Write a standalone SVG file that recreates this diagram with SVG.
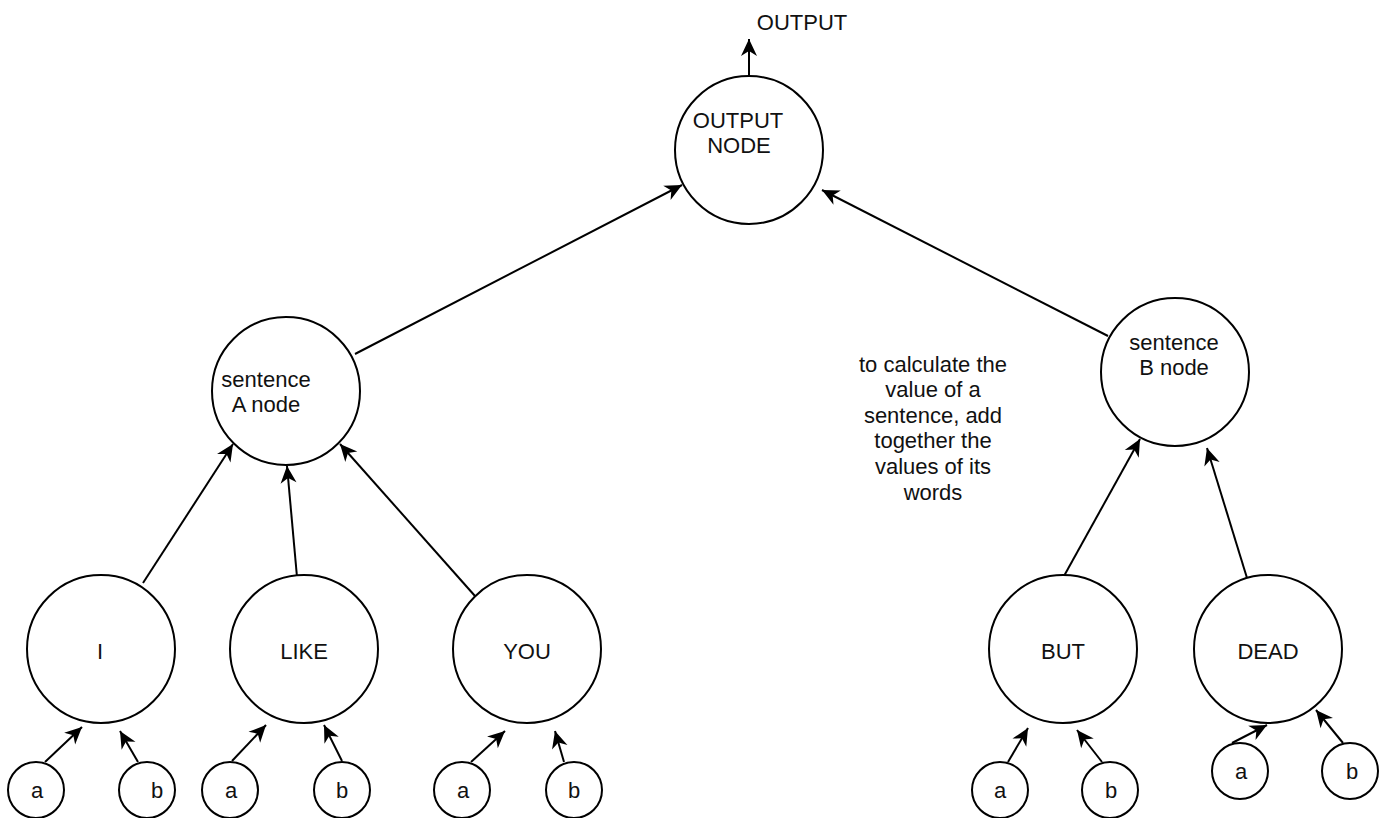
<svg xmlns="http://www.w3.org/2000/svg" width="1382" height="818" viewBox="0 0 1382 818">
<defs>
<marker id="arr" markerUnits="userSpaceOnUse" markerWidth="18" markerHeight="16" refX="17" refY="8" orient="auto" overflow="visible">
<path d="M0,0 L17,8 L0,16 L5,8 Z" fill="#000"/>
</marker>
<style>
.n{fill:#fff;stroke:#000;stroke-width:2}
.t{font-family:"Liberation Sans",Arial,sans-serif;font-size:22px;fill:#111;text-anchor:middle}
.c{fill:none;stroke:#000;stroke-width:2;marker-end:url(#arr)}
</style>
</defs>
<rect width="1382" height="818" fill="#fff"/>
<g id="connectors">
<line class="c" x1="749" y1="76" x2="749" y2="39"/>
<line class="c" x1="355" y1="354" x2="682" y2="185"/>
<line class="c" x1="1108" y1="336" x2="822" y2="190"/>
<line class="c" x1="143" y1="583" x2="233" y2="444"/>
<line class="c" x1="297" y1="577" x2="287" y2="466"/>
<line class="c" x1="475" y1="596" x2="340" y2="444"/>
<line class="c" x1="1064" y1="576" x2="1140" y2="439"/>
<line class="c" x1="1247" y1="578" x2="1207" y2="448"/>
<line class="c" x1="45" y1="762" x2="82" y2="727"/>
<line class="c" x1="138" y1="762" x2="120" y2="731"/>
<line class="c" x1="232" y1="761" x2="266" y2="725"/>
<line class="c" x1="342" y1="761" x2="324" y2="725"/>
<line class="c" x1="471" y1="762" x2="505" y2="731"/>
<line class="c" x1="564" y1="762" x2="555" y2="731"/>
<line class="c" x1="1008" y1="762" x2="1028" y2="728"/>
<line class="c" x1="1102" y1="762" x2="1077" y2="730"/>
<line class="c" x1="1232" y1="743" x2="1267" y2="725"/>
<line class="c" x1="1343" y1="743" x2="1316" y2="710"/>
</g>
<g id="output-label"><text class="t" x="802" y="30">OUTPUT</text></g>
<g id="output-node"><circle class="n" cx="749" cy="150" r="74"/><text class="t" x="738" y="128">OUTPUT</text><text class="t" x="739" y="153">NODE</text></g>
<g id="sentence-a"><circle class="n" cx="286" cy="391" r="74"/><text class="t" x="266" y="387">sentence</text><text class="t" x="266" y="412">A node</text></g>
<g id="sentence-b"><circle class="n" cx="1175" cy="372" r="74"/><text class="t" x="1174" y="350">sentence</text><text class="t" x="1174" y="375">B node</text></g>
<g id="note"><text class="t" x="933" y="372">to calculate the</text><text class="t" x="933" y="397">value of a</text><text class="t" x="933" y="423">sentence, add</text><text class="t" x="933" y="448">together the</text><text class="t" x="933" y="474">values of its</text><text class="t" x="933" y="500">words</text></g>
<g id="word-i"><circle class="n" cx="101" cy="649" r="74"/><text class="t" x="100" y="659">I</text></g>
<g id="word-like"><circle class="n" cx="304" cy="649" r="74"/><text class="t" x="304" y="659">LIKE</text></g>
<g id="word-you"><circle class="n" cx="527" cy="649" r="74"/><text class="t" x="527" y="659">YOU</text></g>
<g id="word-but"><circle class="n" cx="1063" cy="649" r="74"/><text class="t" x="1063" y="659">BUT</text></g>
<g id="word-dead"><circle class="n" cx="1268" cy="649" r="74"/><text class="t" x="1268" y="659">DEAD</text></g>
<g id="i-a"><circle class="n" cx="36" cy="790" r="28"/><text class="t" x="37" y="798">a</text></g>
<g id="i-b"><circle class="n" cx="147" cy="790" r="28"/><text class="t" x="157" y="798">b</text></g>
<g id="like-a"><circle class="n" cx="230" cy="790" r="28"/><text class="t" x="231" y="798">a</text></g>
<g id="like-b"><circle class="n" cx="342" cy="790" r="28"/><text class="t" x="342" y="798">b</text></g>
<g id="you-a"><circle class="n" cx="462" cy="790" r="28"/><text class="t" x="463" y="798">a</text></g>
<g id="you-b"><circle class="n" cx="574" cy="790" r="28"/><text class="t" x="574" y="798">b</text></g>
<g id="but-a"><circle class="n" cx="1000" cy="790" r="28"/><text class="t" x="1000" y="798">a</text></g>
<g id="but-b"><circle class="n" cx="1110" cy="790" r="28"/><text class="t" x="1111" y="798">b</text></g>
<g id="dead-a"><circle class="n" cx="1240" cy="771" r="28"/><text class="t" x="1241" y="779">a</text></g>
<g id="dead-b"><circle class="n" cx="1350" cy="771" r="28"/><text class="t" x="1352" y="779">b</text></g>
</svg>
